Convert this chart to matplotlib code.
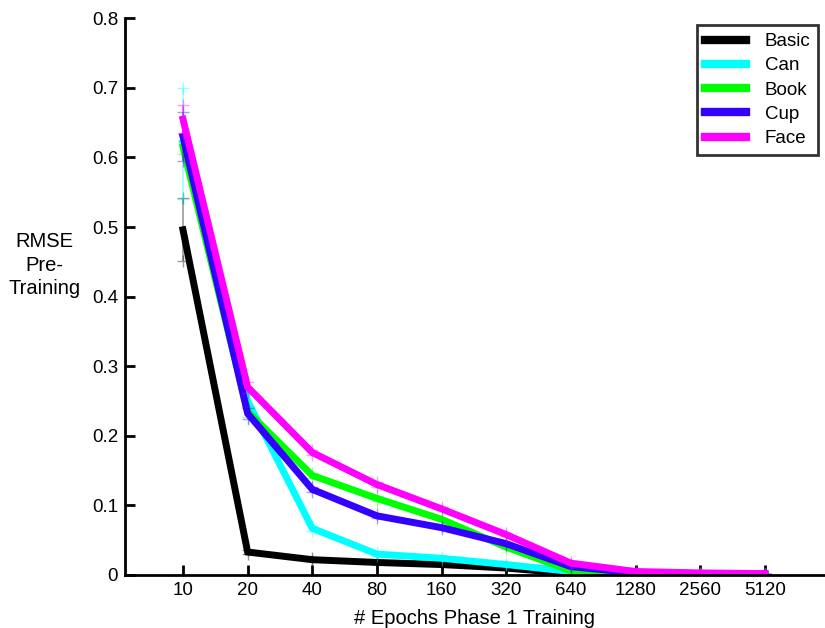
import numpy as np
import matplotlib
matplotlib.use("Agg")
import matplotlib.pyplot as plt

plt.rcParams['font.family'] = ['Liberation Sans', 'DejaVu Sans']

epochs = ["10", "20", "40", "80", "160", "320", "640", "1280", "2560", "5120"]

basic = [0.496, 0.033, 0.022, 0.018, 0.015, 0.010, 0.002, 0.001, 0.001, 0.001]
can = [0.620, 0.250, 0.067, 0.030, 0.024, 0.015, 0.005, 0.002, 0.001, 0.001]
book = [0.615, 0.235, 0.143, 0.110, 0.080, 0.040, 0.006, 0.002, 0.001, 0.001]
cup = [0.630, 0.232, 0.123, 0.085, 0.068, 0.045, 0.012, 0.003, 0.002, 0.002]
face = [0.655, 0.270, 0.176, 0.130, 0.095, 0.058, 0.017, 0.005, 0.003, 0.002]

# error bar half-widths (only really visible at the first point)
basic_err = [0.045, 0.003, 0.002, 0.001, 0.001, 0.001, 0.001, 0.0, 0.0, 0.0]
can_err = [0.080, 0.008, 0.004, 0.003, 0.002, 0.001, 0.001, 0.0, 0.0, 0.0]
book_err = [0.010, 0.008, 0.004, 0.003, 0.002, 0.002, 0.001, 0.0, 0.0, 0.0]
cup_err = [0.035, 0.008, 0.004, 0.003, 0.002, 0.002, 0.001, 0.0, 0.0, 0.0]
face_err = [0.020, 0.008, 0.004, 0.003, 0.002, 0.002, 0.001, 0.0, 0.0, 0.0]

series = [
    ("Basic", basic, basic_err, "#000000"),
    ("Can", can, can_err, "#00ffff"),
    ("Book", book, book_err, "#00ff00"),
    ("Cup", cup, cup_err, "#3300ff"),
    ("Face", face, face_err, "#ff00ff"),
]

x = np.arange(1, len(epochs) + 1)

fig = plt.figure(figsize=(8.25, 6.28), dpi=100)
ax = fig.add_axes([0.1515, 0.0844, 0.8485, 0.8866])

for name, vals, err, col in series:
    vals = np.array(vals)
    err = np.array(err)
    ax.errorbar(x, vals, yerr=err, fmt="none", ecolor=col, alpha=0.4,
                elinewidth=1.2, capsize=0)
    ax.plot(x, vals - err, "+", color=col, alpha=0.4, ms=8)
    ax.plot(x, vals + err, "+", color=col, alpha=0.4, ms=8)
    ax.plot(x, vals, color=col, lw=5, label=name, solid_joinstyle="miter")

ax.set_xlim(0.103, 10.93)
ax.set_ylim(0, 0.8)
ax.set_xticks(x)
ax.set_xticklabels(epochs)
ax.set_yticks(np.arange(0, 0.81, 0.1))
ax.set_yticklabels(["0", "0.1", "0.2", "0.3", "0.4", "0.5", "0.6", "0.7", "0.8"])
ax.tick_params(direction="in", length=7, width=2, labelsize=13.5, pad=5)

for s in ["top", "right"]:
    ax.spines[s].set_visible(False)
for s in ["left", "bottom"]:
    ax.spines[s].set_linewidth(2)

ax.set_xlabel("# Epochs Phase 1 Training", fontsize=14.5, labelpad=7)
fig.text(0.054, 0.578, "RMSE\nPre-\nTraining", ha="center", va="center",
         fontsize=14.5, linespacing=1.3)

leg = ax.legend(loc="upper right", bbox_to_anchor=(0.99, 0.987), borderaxespad=0,
                fontsize=13.5, frameon=True, fancybox=False, edgecolor="black",
                handlelength=2.2, handletextpad=1.0, borderpad=0.4,
                labelspacing=0.38)
leg.get_frame().set_linewidth(2)
for line in leg.get_lines():
    line.set_linewidth(6)

fig.savefig("out.png", dpi=100)
